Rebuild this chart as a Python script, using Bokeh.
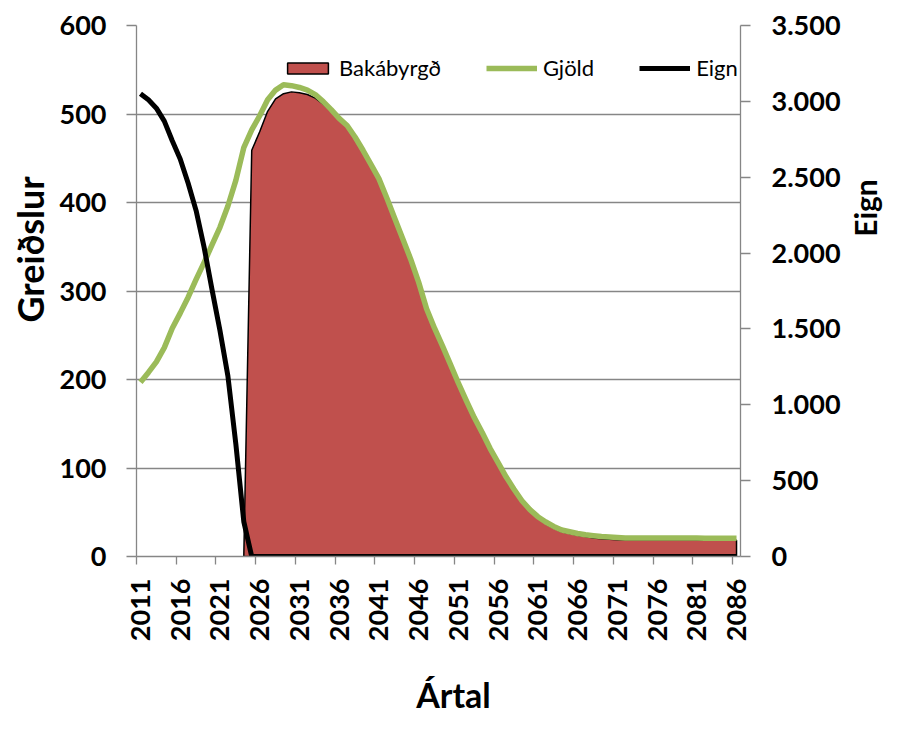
import math
from bokeh.plotting import figure
from bokeh.layouts import row, column
from bokeh.models import (Range1d, LinearAxis, FixedTicker, Legend, LegendItem,
                          Title, Label, CustomJSTickFormatter)
from bokeh.embed import file_html
from bokeh.resources import INLINE

# ---------------- data ----------------
years = list(range(2011, 2087))

gjold = [197, 208, 220, 236, 258, 275, 293, 313, 332, 352,
         372, 396, 425, 462, 482, 498, 516, 527, 533, 532,
         530, 527, 522, 514, 505, 495, 487, 474, 459, 443,
         427, 405, 382, 359, 336, 310, 280, 258, 238, 217,
         196, 176, 157, 140, 122, 106, 90, 76, 63, 53,
         45, 39, 34, 30, 28, 26, 24.5, 23.5, 22.5, 22,
         21.5, 21, 21, 21, 21, 21, 21, 21, 21, 21,
         21, 20.5, 20.5, 20.5, 20.5, 20.5]

bakabyrgd = [0, 0, 0, 0, 0, 0, 0, 0, 0, 0,
             0, 0, 0, 0, 459, 480, 503, 517, 523, 525,
             524, 522, 518, 511, 503, 494, 486, 473, 458, 442,
             426, 404, 381, 358, 335, 309, 279, 257, 237, 216,
             195, 175, 156, 139, 121, 105, 89, 75, 62, 52,
             44, 37, 32, 28, 26, 24, 22.5, 21, 20, 19.5,
             19, 19, 19, 19, 19, 19, 19, 19, 19, 19,
             19, 18.5, 18.5, 18.5, 18.5, 18.5]

eign = [3050, 3010, 2955, 2870, 2740, 2620, 2460, 2280, 2040, 1760,
        1490, 1190, 741, 230, 0, 0, 0, 0, 0, 0,
        0, 0, 0, 0, 0, 0, 0, 0, 0, 0,
        0, 0, 0, 0, 0, 0, 0, 0, 0, 0,
        0, 0, 0, 0, 0, 0, 0, 0, 0, 0,
        0, 0, 0, 0, 0, 0, 0, 0, 0, 0,
        0, 0, 0, 0, 0, 0, 0, 0, 0, 0,
        0, 0, 0, 0, 0, 0]

label_years = list(range(2011, 2087, 5))
left_ticks = [0, 100, 200, 300, 400, 500, 600]
right_ticks = [0, 500, 1000, 1500, 2000, 2500, 3000, 3500]

# ---------------- styles ----------------
RED = "#C0504D"
GREEN = "#9BBB59"
GRID = "#868686"
FONT = "Lato"

W_MAIN, H_MAIN = 843, 672
W_SIDE = 883 - W_MAIN
H_BOTTOM = 716 - H_MAIN

p = figure(width=W_MAIN, height=H_MAIN, output_backend="svg", toolbar_location=None,
           x_range=Range1d(2010.5, 2086.5), y_range=Range1d(0, 600),
           min_border_left=136, min_border_right=W_MAIN - 742, min_border_top=25,
           min_border_bottom=H_MAIN - 556)
p.outline_line_color = None
p.background_fill_color = "white"
p.border_fill_color = "white"
p.xgrid.grid_line_color = None
p.ygrid.grid_line_color = GRID
p.ygrid.grid_line_width = 1.3
p.ygrid.ticker = FixedTicker(ticks=left_ticks)

p.extra_y_ranges = {"eign": Range1d(0, 3500)}

# red area: from the last zero before it starts
start = next(i for i, v in enumerate(bakabyrgd) if v > 0) - 1
ax = years[start:]
ay = bakabyrgd[start:]
patch_x = ax + ax[::-1]
patch_y = ay + [0] * len(ax)
r_bak = p.patch(patch_x, patch_y, fill_color=RED, line_color="black", line_width=1.5)

r_gj = p.line(years, gjold, line_color=GREEN, line_width=5.5, line_join="round")
r_ei = p.line(years, eign, line_color="black", line_width=5, line_join="round",
              y_range_name="eign")

# axes
xa = p.xaxis[0]
xa.ticker = FixedTicker(ticks=label_years, minor_ticks=[y - 0.5 for y in label_years])
xa.major_label_orientation = math.pi / 2
xa.major_tick_out = 0
xa.major_tick_in = 0
xa.minor_tick_out = 8
xa.minor_tick_in = 0
xa.minor_tick_line_color = GRID
xa.minor_tick_line_width = 1.3
xa.axis_line_color = GRID
xa.axis_line_width = 1.3
xa.major_label_standoff = 14

ya = p.yaxis[0]
ya.ticker = FixedTicker(ticks=left_ticks)
ya.major_tick_out = 10
ya.major_tick_in = 0
ya.minor_tick_line_color = None
ya.major_tick_line_color = GRID
ya.major_tick_line_width = 1.3
ya.axis_line_color = GRID
ya.axis_line_width = 1.3
ya.major_label_standoff = 20

ra = LinearAxis(y_range_name="eign", ticker=FixedTicker(ticks=right_ticks),
                formatter=CustomJSTickFormatter(code="return tick.toString().replace(/\\B(?=(\\d{3})+(?!\\d))/g, '.');"))
ra.major_tick_out = 10
ra.major_tick_in = 0
ra.minor_tick_line_color = None
ra.major_tick_line_color = GRID
ra.major_tick_line_width = 1.3
ra.axis_line_color = GRID
ra.axis_line_width = 1.3
ra.major_label_standoff = 21
p.add_layout(ra, "right")

for a in (xa, ya, ra):
    a.major_label_text_font = FONT
    a.major_label_text_font_style = "bold"
    a.major_label_text_font_size = "27px"
    a.major_label_text_color = "black"

# left axis title
p.add_layout(Title(text="Greiðslur", align="left", offset=234, standoff=10,
                   text_font=FONT, text_font_style="bold", text_font_size="36px",
                   text_color="black"), "left")

legend = Legend(items=[LegendItem(label="Bakábyrgð", renderers=[r_bak]),
                       LegendItem(label="Gjöld", renderers=[r_gj]),
                       LegendItem(label="Eign", renderers=[r_ei])],
                orientation="horizontal", location=(146, 475))
legend.padding = 0
legend.margin = 0
legend.spacing = 45
legend.glyph_width = 51
legend.glyph_height = 14
legend.label_height = 24
legend.label_standoff = 6
legend.border_line_color = None
legend.background_fill_alpha = 0
legend.label_text_font = FONT
legend.label_text_font_size = "22px"
legend.label_text_color = "black"
p.add_layout(legend)


def text_panel(w, h):
    f = figure(width=w, height=h, output_backend="svg", toolbar_location=None,
               x_range=Range1d(0, w), y_range=Range1d(0, h),
               min_border=0, min_border_left=0, min_border_right=0,
               min_border_top=0, min_border_bottom=0)
    f.axis.visible = False
    f.grid.visible = False
    f.outline_line_color = None
    f.background_fill_color = "white"
    f.border_fill_color = "white"
    return f


# right axis title (own strip so that it is not clipped)
p_side = text_panel(W_SIDE, H_MAIN)
p_side.add_layout(Label(x=21, y=H_MAIN - 231, text="Eign", angle=math.pi / 2,
                        text_align="center", text_baseline="middle", text_font=FONT,
                        text_font_style="bold", text_font_size="30px", text_color="black"))

# bottom axis title
p_bot = text_panel(W_MAIN + W_SIDE, H_BOTTOM)
p_bot.add_layout(Label(x=453, y=H_BOTTOM / 2, text="Ártal",
                       text_align="center", text_baseline="middle", text_font=FONT,
                       text_font_style="bold", text_font_size="34px", text_color="black"))

layout = column(row(p, p_side, spacing=0), p_bot, spacing=0)

open("out.html", "w").write(file_html(layout, INLINE))
